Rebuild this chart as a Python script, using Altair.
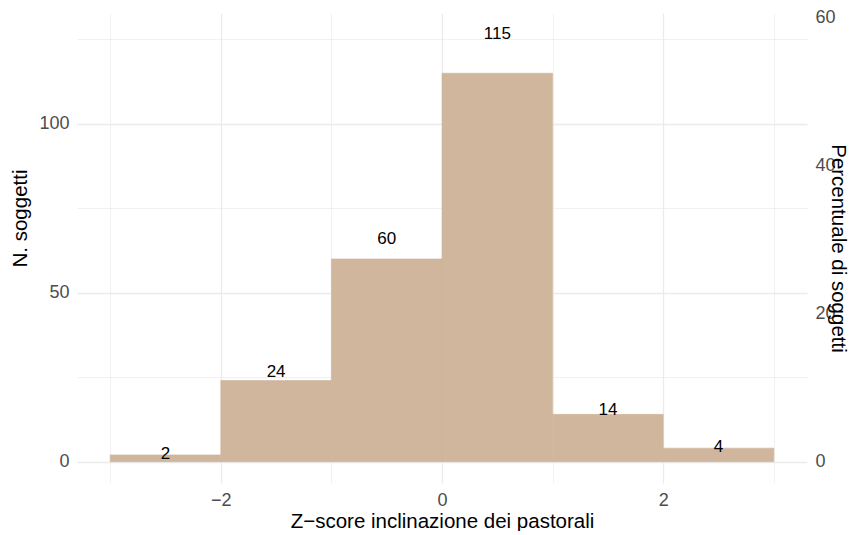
import altair as alt
import pandas as pd

# Data
bin_start = [-3, -2, -1, 0, 1, 2]
bin_end = [-2, -1, 0, 1, 2, 3]
counts = [2, 24, 60, 115, 14, 4]

x_ticks = [-3, -2, -1, 0, 1, 2, 3]
y_ticks = [0, 25, 50, 75, 100, 125]
pct_ticks = [0, 20, 40, 60]

df = pd.DataFrame({"bin_start": bin_start, "bin_end": bin_end, "count": counts})
df["mid"] = (df["bin_start"] + df["bin_end"]) / 2

total = sum(counts)
label_factor = 1.1
ymax_data = max(counts) * label_factor
expand = 0.05 * ymax_data
y_domain = [-expand, ymax_data + expand]
pct_domain = [v / total * 100 for v in y_domain]
x_expand = 0.05 * (max(bin_end) - min(bin_start))
x_domain = [min(bin_start) - x_expand, max(bin_end) + x_expand]

W, H = 730, 470
FONT = "Liberation Sans"
GRID = "#EBEBEB"
BAR = "#CFB69C"
TICK_FS = 18
TITLE_FS = 20.5
LABEL_FS = 17

x_scale = alt.Scale(domain=x_domain, nice=False, zero=False)

x_axis = alt.Axis(
    values=x_ticks,
    labelExpr="datum.value % 2 === 0 ? replace(datum.label, '-', '\u2212') : ''",
    title="Z\u2212score inclinazione dei pastorali",
    grid=True,
    gridColor=GRID,
    gridWidth={"condition": {"test": "datum.value % 2 === 0", "value": 1.3}, "value": 0.7},
    domain=False,
    ticks=False,
    labelPadding=8,
    labelFontSize=TICK_FS,
    labelColor="#4D4D4D",
    labelFont=FONT,
    titleFont=FONT,
    titleFontSize=TITLE_FS,
    titleFontWeight="normal",
    titleColor="black",
    titleY=38,
    titleBaseline="middle",
)

y_axis = alt.Axis(
    values=y_ticks,
    labelExpr="datum.value % 50 === 0 ? datum.label : ''",
    title="N. soggetti",
    grid=True,
    gridColor=GRID,
    gridWidth={"condition": {"test": "datum.value % 50 === 0", "value": 1.3}, "value": 0.7},
    domain=False,
    ticks=False,
    labelPadding=8,
    labelFontSize=TICK_FS,
    labelColor="#4D4D4D",
    labelFont=FONT,
    titleFont=FONT,
    titleFontSize=TITLE_FS,
    titleFontWeight="normal",
    titleColor="black",
    titleAngle=-90,
    titleX=-57,
    titleY=205,
    titleAlign="center",
    titleBaseline="middle",
)

pct_axis = alt.Axis(
    orient="right",
    values=pct_ticks,
    title="Percentuale di soggetti",
    grid=False,
    domain=False,
    ticks=False,
    labelPadding=8,
    labelFontSize=TICK_FS,
    labelColor="#4D4D4D",
    labelFont=FONT,
    titleFont=FONT,
    titleFontSize=TITLE_FS,
    titleFontWeight="normal",
    titleColor="black",
    titleAngle=90,
    titleX=30,
    titleY=H / 2,
    titleAlign="center",
    titleBaseline="middle",
)

base = alt.Chart(df)

bars = base.mark_rect(color=BAR, stroke=BAR, strokeWidth=0.6).encode(
    x=alt.X("bin_start:Q", scale=x_scale, axis=x_axis),
    x2="bin_end:Q",
    y=alt.Y("count:Q", scale=alt.Scale(domain=y_domain, nice=False, zero=False), axis=y_axis),
    y2=alt.datum(0),
)

labels = base.transform_calculate(
    label_y=f"datum.count * {label_factor}"
).mark_text(font=FONT, fontSize=LABEL_FS, color="black", baseline="middle", align="center").encode(
    x=alt.X("mid:Q", scale=x_scale, axis=x_axis),
    y=alt.Y("label_y:Q", scale=alt.Scale(domain=y_domain, nice=False, zero=False), axis=None),
    text="count:Q",
)

pct_layer = base.transform_joinaggregate(
    total="sum(count)"
).transform_calculate(
    pct="datum.count / datum.total * 100"
).mark_rect(opacity=0).encode(
    x=alt.X("bin_start:Q", scale=x_scale, axis=x_axis),
    x2="bin_end:Q",
    y=alt.Y("pct:Q", scale=alt.Scale(domain=pct_domain, nice=False, zero=False), axis=pct_axis),
)

chart = alt.layer(bars, labels, pct_layer).resolve_scale(y="independent").properties(
    width=W,
    height=H,
    autosize=alt.AutoSizeParams(type="none"),
    padding={"left": 69, "top": 5, "right": 43, "bottom": 48},
    background="white",
).configure_view(strokeWidth=0)

chart.save("out.html", embed_options={"renderer": "svg", "actions": False})
